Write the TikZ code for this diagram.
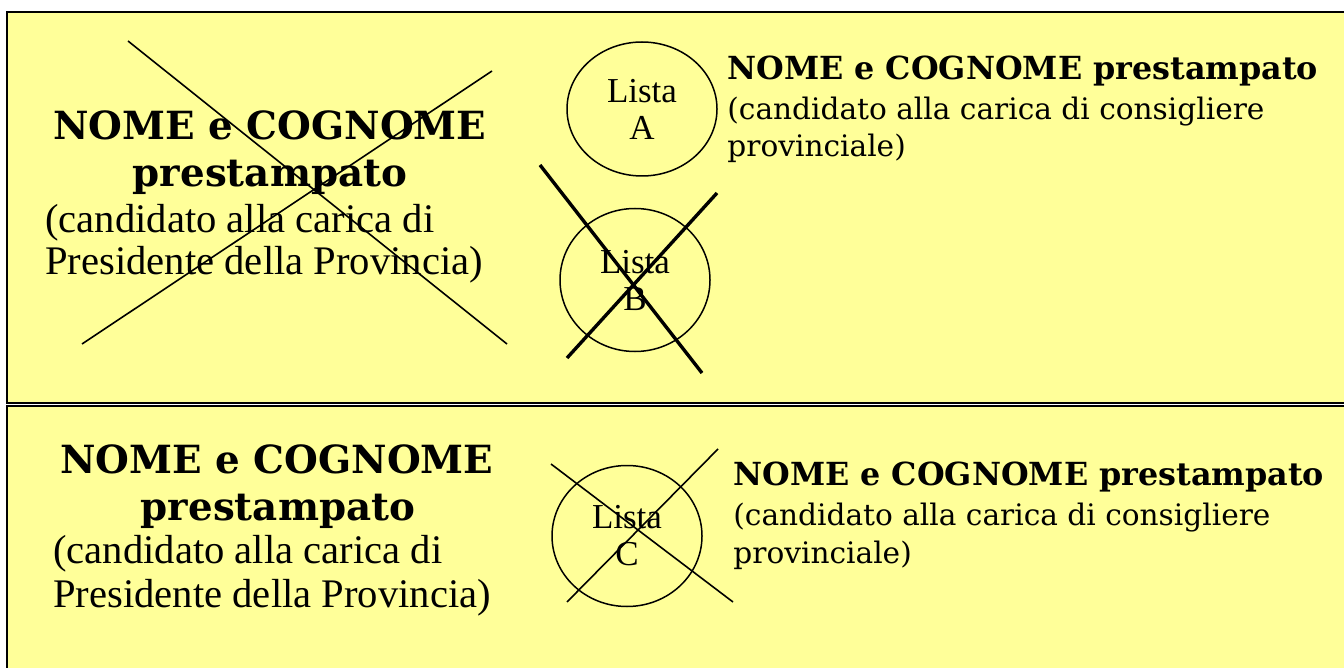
\documentclass[tikz,border=0pt]{standalone}
\usepackage{fontspec}
\setmainfont{Liberation Serif}
\newfontfamily\geofont{DejaVu Serif}
\usetikzlibrary{positioning,shapes.geometric}
\definecolor{ballotyellow}{HTML}{FFFF99}
\tikzset{
  panel/.style={draw=black, fill=ballotyellow, line width=1pt},
  bigname/.style={inner sep=0pt, anchor=base, font=\geofont\bfseries\fontsize{19.4}{23}\selectfont},
  bigoffice/.style={inner sep=0pt, anchor=base west, font=\fontsize{20.3}{21}\selectfont},
  smallname/.style={inner sep=0pt, anchor=base west, font=\geofont\bfseries\fontsize{15.9}{18}\selectfont},
  smalloffice/.style={inner sep=0pt, anchor=base west, font=\geofont\fontsize{14.8}{18}\selectfont},
  lista/.style={draw, ellipse, line width=0.75pt, align=center, inner sep=0pt,
    font=\fontsize{17.5}{18.5}\selectfont},
  cross/.style={line width=0.8pt},
  heavycross/.style={line width=1.7pt}
}
\begin{document}
\begin{tikzpicture}[x=0.5pt, y=-0.5pt]
\useasboundingbox (0,0) rectangle (1344,668);
\fill[white] (0,0) rectangle (1344,668);
% the two panels of the ballot
\draw[panel] (7,12) rectangle (1360,403);
\draw[panel] (7,406) rectangle (1360,690);

% top panel: president
\node[bigname] (presA1) at (270,140) {NOME e COGNOME};
\node[bigname] (presA2) at (270,187) {prestampato};
\node[bigoffice] (presA3) at (45,233) {(candidato alla carica di};
\node[bigoffice] (presA4) at (45,275) {Presidente della Provincia)};
\draw[cross] (128,41) -- (507,344);
\draw[cross] (492,71) -- (82,344);

% top panel: lists
\node[lista, minimum width=75pt, minimum height=67pt] (listaA) at (642,109) {Lista\\A};
\node[lista, minimum width=75pt, minimum height=71.5pt] (listaB) at (635,280) {Lista\\B};
\draw[heavycross] (540,165) -- (702,373);
\draw[heavycross] (717,193) -- (567,358);

% top panel: councillor
\node[smallname] (consA1) at (727,80) {NOME e COGNOME prestampato};
\node[smalloffice] (consA2) at (727,120) {(candidato alla carica di consigliere};
\node[smalloffice] (consA3) at (727,157) {provinciale)};

% bottom panel: president
\node[bigname] (presB1) at (277,473) {NOME e COGNOME};
\node[bigname] (presB2) at (278,520) {prestampato};
\node[bigoffice] (presB3) at (53,563) {(candidato alla carica di};
\node[bigoffice] (presB4) at (53,607) {Presidente della Provincia)};

% bottom panel: list
\node[lista, minimum width=75pt, minimum height=70.5pt] (listaC) at (627,536) {Lista\\C};
\draw[cross] (551,464) -- (733,602);
\draw[cross] (718,449) -- (567,602);

% bottom panel: councillor
\node[smallname] (consB1) at (733,485) {NOME e COGNOME prestampato};
\node[smalloffice] (consB2) at (733,525) {(candidato alla carica di consigliere};
\node[smalloffice] (consB3) at (733,563) {provinciale)};
\end{tikzpicture}
\end{document}
